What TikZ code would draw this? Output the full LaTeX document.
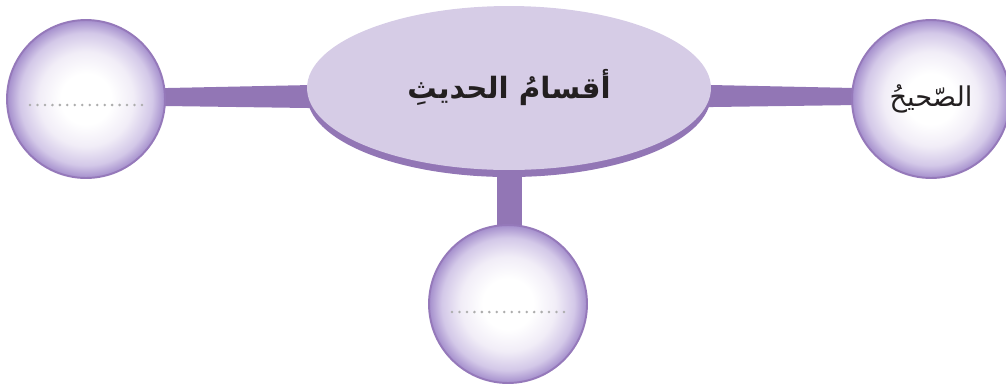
\documentclass[tikz,border=0pt]{standalone}
\usepackage{fontspec}
\usepackage{xcolor}
\usepackage{tikz}
\usetikzlibrary{calc,shapes.geometric,shadows,backgrounds}
\newfontfamily\arabicfont[Script=Arabic]{DejaVu Sans}
\TeXXeTstate=1
\definecolor{barpurple}{HTML}{9276B5}
\definecolor{ellfill}{HTML}{D6CCE6}
\definecolor{bubbleline}{HTML}{9579BA}
\definecolor{bubblelight}{HTML}{F1EDF7}
\definecolor{bubblemid}{HTML}{D3C8E8}
\definecolor{bubbleedge}{HTML}{A48ECC}
\definecolor{dotgray}{HTML}{ADADAD}
\definecolor{inkgray}{HTML}{231F20}
\pgfdeclareradialshading{bubbleshade}{\pgfpoint{0bp}{0bp}}{color(0bp)=(white); color(8bp)=(white); color(15bp)=(bubblelight); color(21bp)=(bubblemid); color(25bp)=(bubbleedge); color(50bp)=(bubbleedge)}

\begin{document}
\begin{tikzpicture}[x=0.02cm,y=-0.02cm,
    bubble/.style={circle,minimum size=3.16cm,inner sep=0pt,shading=bubbleshade,draw=bubbleline,line width=1.1pt},
    hub/.style={ellipse,minimum width=8.08cm,minimum height=3.28cm,inner sep=0pt,fill=ellfill,
      drop shadow={shadow xshift=0pt,shadow yshift=-4pt,fill=barpurple,opacity=1}},
    dotline/.style={draw=dotgray,line width=1.6pt,line cap=round,dash pattern=on 0pt off 4.25pt}]
  \useasboundingbox (0,0) rectangle (1006,383);
  \node[hub,text=inkgray] (hub) at (509,88) {\arabicfont\bfseries\fontsize{16.7}{20}\selectfont\beginR أقسامُ الحديثِ\endR};
  \node[bubble] (lc) at (86,99) {};
  \node[bubble,text=inkgray] (rc) at (931,99) {\arabicfont\fontsize{15.5}{20}\selectfont\beginR الصّحيحُ\endR};
  \node[bubble] (bc) at (508,304) {};
  \draw[dotline] ($(lc.center)+(-56,6)$) -- ($(lc.center)+(57,6)$);
  \draw[dotline] ($(bc.center)+(-56,8)$) -- ($(bc.center)+(57,8)$);
  \begin{scope}[on background layer]
    \fill[barpurple] ($(lc.center)+(0,-9.3)$) -- ($(hub.center)+(0,-7.1)$) -- ($(hub.center)+(0,22.8)$) -- ($(lc.center)+(0,5.9)$) -- cycle;
    \fill[barpurple] ($(rc.center)+(0,-9.4)$) -- ($(hub.center)+(0,-7.2)$) -- ($(hub.center)+(0,21.8)$) -- ($(rc.center)+(0,5)$) -- cycle;
    \fill[barpurple] ($(hub.center)+(-12,0)$) rectangle ($(bc.center)+(14,0)$);
  \end{scope}
\end{tikzpicture}
\end{document}
